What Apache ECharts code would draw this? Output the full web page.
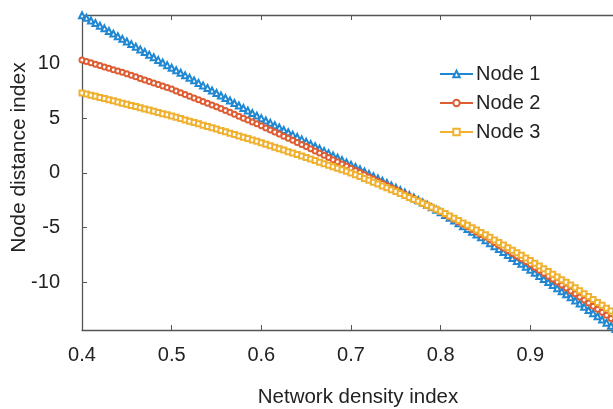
<!DOCTYPE html>
<html>
<head>
<meta charset="utf-8">
<script src="https://cdn.jsdelivr.net/npm/echarts@6/dist/echarts.min.js"></script>
<style>html,body{margin:0;padding:0;background:#fff}#c{width:613px;height:409px}</style>
</head>
<body>
<div id="c"></div>
<script>
var xValues = [0.400,0.405,0.410,0.415,0.420,0.425,0.430,0.435,0.440,0.445,
0.450,0.455,0.460,0.465,0.470,0.475,0.480,0.485,0.490,0.495,
0.500,0.505,0.510,0.515,0.520,0.525,0.530,0.535,0.540,0.545,
0.550,0.555,0.560,0.565,0.570,0.575,0.580,0.585,0.590,0.595,
0.600,0.605,0.610,0.615,0.620,0.625,0.630,0.635,0.640,0.645,
0.650,0.655,0.660,0.665,0.670,0.675,0.680,0.685,0.690,0.695,
0.700,0.705,0.710,0.715,0.720,0.725,0.730,0.735,0.740,0.745,
0.750,0.755,0.760,0.765,0.770,0.775,0.780,0.785,0.790,0.795,
0.800,0.805,0.810,0.815,0.820,0.825,0.830,0.835,0.840,0.845,
0.850,0.855,0.860,0.865,0.870,0.875,0.880,0.885,0.890,0.895,
0.900,0.905,0.910,0.915,0.920,0.925,0.930,0.935,0.940,0.945,
0.950,0.955,0.960,0.965,0.970,0.975,0.980,0.985,0.990,0.995,1.000];

var node1 = [14.40,14.16,13.92,13.68,13.44,13.20,12.96,12.72,12.48,12.24,
12.00,11.76,11.52,11.28,11.04,10.80,10.56,10.32,10.08,9.84,
9.60,9.37,9.14,8.91,8.68,8.45,8.22,7.99,7.76,7.53,
7.30,7.07,6.84,6.61,6.38,6.15,5.92,5.69,5.46,5.23,
5.00,4.78,4.57,4.35,4.14,3.92,3.71,3.49,3.28,3.06,
2.85,2.64,2.43,2.22,2.01,1.80,1.59,1.38,1.17,0.96,
0.75,0.54,0.33,0.12,-0.09,-0.30,-0.51,-0.72,-0.93,-1.14,
-1.35,-1.57,-1.79,-2.02,-2.24,-2.47,-2.70,-2.92,-3.15,-3.37,
-3.60,-3.85,-4.10,-4.36,-4.61,-4.87,-5.12,-5.38,-5.63,-5.89,
-6.15,-6.42,-6.69,-6.96,-7.23,-7.50,-7.77,-8.04,-8.31,-8.58,
-8.85,-9.13,-9.41,-9.69,-9.97,-10.25,-10.53,-10.81,-11.09,-11.37,
-11.65,-11.94,-12.23,-12.52,-12.81,-13.10,-13.39,-13.68,-13.97,-14.26,-14.55];

var node2 = [10.30,10.18,10.05,9.93,9.80,9.68,9.55,9.43,9.30,9.18,
9.05,8.91,8.77,8.63,8.49,8.35,8.21,8.07,7.93,7.79,
7.65,7.49,7.33,7.17,7.01,6.85,6.69,6.53,6.37,6.21,
6.05,5.88,5.70,5.53,5.35,5.18,5.00,4.83,4.65,4.48,
4.30,4.11,3.92,3.73,3.54,3.35,3.16,2.97,2.78,2.59,
2.40,2.20,2.00,1.81,1.61,1.41,1.21,1.01,0.82,0.62,
0.42,0.22,0.03,-0.17,-0.37,-0.57,-0.76,-0.96,-1.16,-1.35,
-1.55,-1.75,-1.95,-2.15,-2.35,-2.55,-2.75,-2.95,-3.15,-3.35,
-3.55,-3.78,-4.01,-4.24,-4.47,-4.70,-4.93,-5.16,-5.39,-5.62,
-5.85,-6.10,-6.35,-6.60,-6.85,-7.10,-7.35,-7.60,-7.85,-8.10,
-8.35,-8.62,-8.89,-9.16,-9.43,-9.70,-9.97,-10.24,-10.51,-10.78,
-11.05,-11.33,-11.61,-11.89,-12.17,-12.45,-12.73,-13.01,-13.29,-13.57,-13.85];

var node3 = [7.30,7.20,7.09,6.99,6.89,6.79,6.68,6.58,6.48,6.37,
6.27,6.16,6.06,5.95,5.84,5.74,5.63,5.52,5.41,5.31,
5.20,5.08,4.96,4.84,4.72,4.60,4.48,4.36,4.24,4.12,
4.00,3.88,3.75,3.63,3.50,3.38,3.25,3.13,3.00,2.88,
2.75,2.62,2.48,2.35,2.21,2.08,1.94,1.81,1.67,1.54,
1.40,1.26,1.12,0.98,0.84,0.70,0.56,0.42,0.28,0.14,
0.00,-0.17,-0.34,-0.51,-0.68,-0.85,-1.02,-1.19,-1.36,-1.53,
-1.70,-1.88,-2.06,-2.24,-2.42,-2.60,-2.78,-2.96,-3.14,-3.32,
-3.50,-3.72,-3.93,-4.15,-4.36,-4.58,-4.79,-5.01,-5.22,-5.44,
-5.65,-5.89,-6.12,-6.36,-6.59,-6.83,-7.06,-7.30,-7.53,-7.77,
-8.00,-8.25,-8.50,-8.75,-9.00,-9.25,-9.50,-9.75,-10.00,-10.25,
-10.50,-10.77,-11.03,-11.30,-11.56,-11.83,-12.09,-12.36,-12.62,-12.89,-13.15];

var seriesNames = ['Node 1', 'Node 2', 'Node 3'];
var xTicks = [0.4, 0.5, 0.6, 0.7, 0.8, 0.9, 1.0];
var yTicks = [-10, -5, 0, 5, 10];

function pairs(ys) { return ys.map(function (y, i) { return [xValues[i], y]; }); }

var FONT = 'Liberation Sans, Arial, sans-serif';
var axisColor = '#555';
var colors = ['#2088d2', '#de5d33', '#efb12f'];
var chart = echarts.init(document.getElementById('c'), null, {renderer: 'canvas'});
chart.setOption({
  animation: false,
  backgroundColor: '#fff',
  grid: {left: 82, right: -7, top: 15, bottom: 79, containLabel: false, outerBoundsMode: 'none'},
  legend: {
    orient: 'vertical', left: 434, top: 59,
    itemWidth: 33, itemHeight: 8, itemGap: 9,
    textStyle: {fontFamily: FONT, fontSize: 20, color: '#222', padding: [0, 0, 0, -2]},
    data: seriesNames
  },
  xAxis: [{
    type: 'value', min: 0.4, max: 1.0, interval: 0.1, position: 'bottom',
    name: 'Network density index', nameLocation: 'middle', nameGap: 57, nameMoveOverlap: false,
    nameTextStyle: {fontFamily: FONT, fontSize: 20.5, color: '#222', padding: [0, 0, 0, 14]},
    axisLine: {show: true, onZero: false, lineStyle: {color: axisColor, width: 1.3}},
    axisTick: {show: true, inside: true, length: 5, lineStyle: {color: axisColor}},
    axisLabel: {fontFamily: FONT, fontSize: 20, color: '#222', margin: 15,
      formatter: function (v) { return xTicks.indexOf(Math.round(v * 10) / 10) >= 0 ? String(Math.round(v * 10) / 10) : ''; }},
    splitLine: {show: false}
  }, {
    type: 'value', min: 0.4, max: 1.0, interval: 0.1, position: 'top',
    axisLine: {show: true, onZero: false, lineStyle: {color: axisColor, width: 1.3}},
    axisTick: {show: true, inside: true, length: 5, lineStyle: {color: axisColor}},
    axisLabel: {show: false}, splitLine: {show: false}
  }],
  yAxis: {
    type: 'value', min: -14.35, max: 14.42,
    name: 'Node distance index', nameLocation: 'middle', nameGap: 52, nameMoveOverlap: false,
    nameTextStyle: {fontFamily: FONT, fontSize: 21, color: '#222', padding: [0, 0, 0, 30]},
    axisLine: {show: true, onZero: false, lineStyle: {color: axisColor, width: 1.3}},
    axisTick: {show: true, inside: true, length: 5, lineStyle: {color: axisColor}},
    axisLabel: {fontFamily: FONT, fontSize: 20, color: '#222', margin: 22,
      showMinLabel: false, showMaxLabel: false,
      formatter: function (v) { return yTicks.indexOf(v) >= 0 ? String(v) : ''; }},
    splitLine: {show: false}
  },
  series: [
    {name: seriesNames[0], type: 'line', data: pairs(node1), symbol: 'emptyTriangle', symbolSize: 6,
     showAllSymbol: true, color: colors[0], lineStyle: {width: 1.5, color: colors[0]},
     itemStyle: {color: colors[0], borderColor: colors[0], borderWidth: 1.4}},
    {name: seriesNames[1], type: 'line', data: pairs(node2), symbol: 'emptyCircle', symbolSize: 5,
     showAllSymbol: true, color: colors[1], lineStyle: {width: 1.5, color: colors[1]},
     itemStyle: {color: colors[1], borderColor: colors[1], borderWidth: 1.4}},
    {name: seriesNames[2], type: 'line', data: pairs(node3), symbol: 'emptyRect', symbolSize: 5,
     showAllSymbol: true, color: colors[2], lineStyle: {width: 1.5, color: colors[2]},
     itemStyle: {color: colors[2], borderColor: colors[2], borderWidth: 1.4}}
  ]
});
</script>
</body>
</html>
